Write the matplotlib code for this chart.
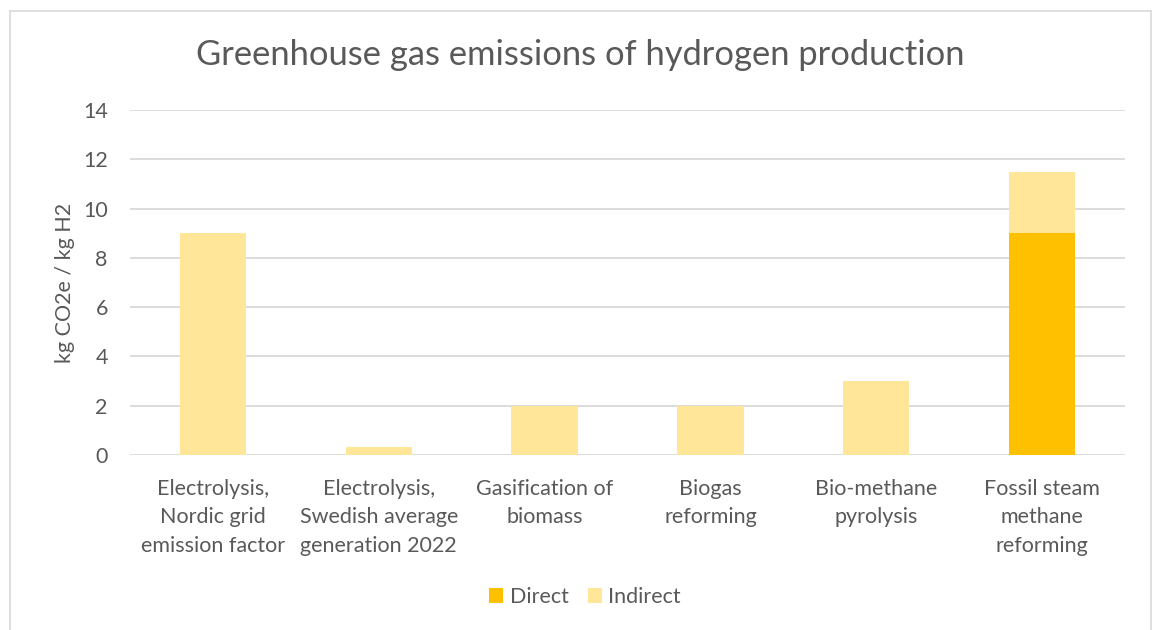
import matplotlib
matplotlib.use("Agg")
import matplotlib.pyplot as plt
from matplotlib.lines import Line2D

categories = [
    "Electrolysis,\nNordic grid\nemission factor",
    "Electrolysis,\nSwedish average\ngeneration 2022",
    "Gasification of\nbiomass",
    "Biogas\nreforming",
    "Bio-methane\npyrolysis",
    "Fossil steam\nmethane\nreforming",
]
direct = [0, 0, 0, 0, 0, 9.0]
indirect = [9.0, 0.33, 2.0, 2.0, 3.0, 2.5]
yticks = [0, 2, 4, 6, 8, 10, 12, 14]

TEXT = "#595959"
plt.rcParams["font.family"] = ["Lato", "DejaVu Sans"]

fig = plt.figure(figsize=(11.53, 6.3), dpi=100)
ax = fig.add_axes([130 / 1153, 1 - 455 / 630, 995 / 1153, 345 / 630])

x = list(range(len(categories)))
ax.bar(x, direct, width=0.4, color="#FFC000", label="Direct", zorder=3)
ax.bar(x, indirect, width=0.4, bottom=direct, color="#FFE699", label="Indirect", zorder=3)

ax.set_xlim(-0.5, len(categories) - 0.5)
ax.set_ylim(0, 14)
ax.set_yticks(yticks)
ax.set_yticklabels([str(t) for t in yticks])
ax.set_xticks(x)
ax.set_xticklabels(categories, linespacing=1.55)
ax.tick_params(axis="both", length=0, colors=TEXT, labelsize=15.5)
ax.tick_params(axis="x", pad=17)
ax.tick_params(axis="y", pad=16)
ax.grid(axis="y", color="#D9D9D9", linewidth=1.3, zorder=0)
for s in ax.spines.values():
    s.set_visible(False)

ax.set_ylabel("kg CO2e / kg H2", color=TEXT, fontsize=15.5)
ax.yaxis.set_label_coords(-55 / 995, 0.5)

fig.text(580 / 1153, 1 - 55 / 630, "Greenhouse gas emissions of hydrogen production",
         ha="center", va="center", fontsize=24.8, color=TEXT)

leg = fig.legend(loc="center", bbox_to_anchor=(585 / 1153, 1 - 597 / 630), ncol=2,
                 frameon=False, fontsize=15.5, handlelength=0.65, handleheight=0.65,
                 handletextpad=0.3, columnspacing=0.9)
for t in leg.get_texts():
    t.set_color(TEXT)

# outer chart border
bc = "#D9D9D9"
W, H = 1153, 630
fig.add_artist(Line2D([10 / W, 10 / W], [0, 1 - 11 / H], color=bc, lw=1.2, transform=fig.transFigure))
fig.add_artist(Line2D([10 / W, 1151 / W], [1 - 11 / H, 1 - 11 / H], color=bc, lw=1.2, transform=fig.transFigure))
fig.add_artist(Line2D([1151 / W, 1151 / W], [0, 1 - 11 / H], color=bc, lw=1.2, transform=fig.transFigure))

fig.savefig("out.png", dpi=100, facecolor="white")
